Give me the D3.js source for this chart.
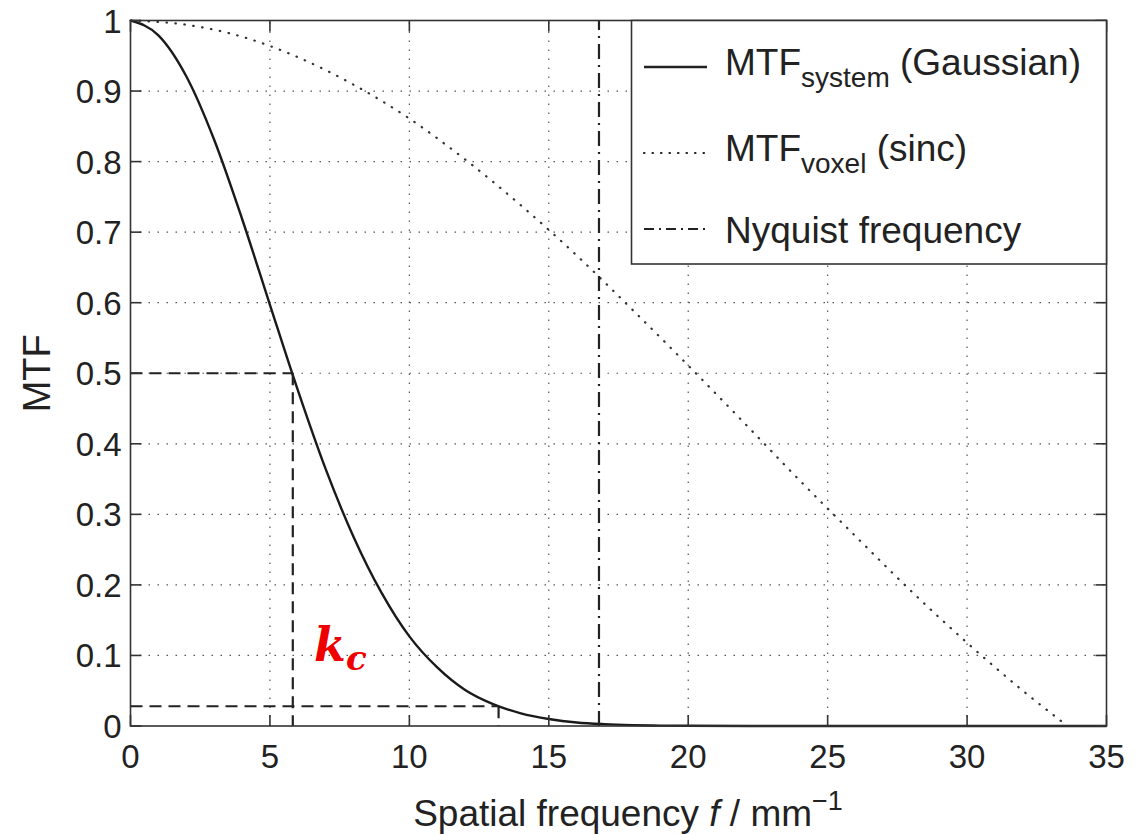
<!DOCTYPE html>
<html lang="en">
<head>
    <meta charset="UTF-8">
    <title>MTF vs spatial frequency</title>
    <script src="https://d3js.org/d3.v7.min.js"></script>
    <style>
        body {
            margin: 0;
            background: #fff;
            font-family: "Liberation Sans", Arial, sans-serif;
        }
        .grid line {
            stroke: #555;
            stroke-width: 1.2;
            stroke-dasharray: 1.5 7.5;
        }
        .tick-label {
            font-size: 33px;
            fill: #222;
        }
        .legend text {
            font-size: 37px;
            fill: #222;
        }
    </style>
</head>
<body>
    <script>
        // values
        const freqSystem = [0, 1, 2, 3, 4, 5, 6, 7, 8, 9, 10, 11, 12, 13, 14, 15, 16, 17, 18, 19, 20, 25, 30, 35];
        const mtfSystem = [1, 0.979, 0.921, 0.831, 0.719, 0.597, 0.476, 0.364, 0.268, 0.189, 0.127,
            0.083, 0.051, 0.031, 0.018, 0.010, 0.005, 0.0026, 0.0013, 0.0006, 0.0003, 0, 0, 0];

        const freqVoxel = [0, 2, 4, 6, 8, 10, 12, 14, 16, 18, 20, 22, 24, 26, 28, 30, 32, 33.6];
        const mtfVoxel = [1, 0.994, 0.977, 0.948, 0.909, 0.861, 0.803, 0.738, 0.667, 0.590,
            0.511, 0.430, 0.348, 0.269, 0.191, 0.118, 0.050, 0];

        const nyquistFreq = 16.8;
        const kcFreq = 5.82;      // MTF = 0.5
        const cutFreq = 13.2;
        const cutLevel = 0.028;

        const xTicks = [0, 5, 10, 15, 20, 25, 30, 35];
        const yTicks = [0, 0.1, 0.2, 0.3, 0.4, 0.5, 0.6, 0.7, 0.8, 0.9, 1];
        const yTickLabels = ["0", "0.1", "0.2", "0.3", "0.4", "0.5", "0.6", "0.7", "0.8", "0.9", "1"];

        const width = 1142, height = 834;
        const plotLeft = 130.5, plotRight = 1106.5, plotTop = 20.5, plotBottom = 726;

        const svg = d3.select("body").append("svg")
            .attr("width", width)
            .attr("height", height);

        const x = d3.scaleLinear().domain([0, 35]).range([plotLeft, plotRight]);
        const y = d3.scaleLinear().domain([0, 1]).range([plotBottom, plotTop]);

        // dotted grid
        const grid = svg.append("g").attr("class", "grid");
        grid.selectAll(".gx")
            .data(xTicks.slice(1, -1))
            .join("line")
            .attr("x1", d => x(d)).attr("x2", d => x(d))
            .attr("y1", plotBottom).attr("y2", plotTop);
        grid.selectAll(".gy")
            .data(yTicks.slice(1, -1))
            .join("line")
            .attr("x1", plotLeft).attr("x2", plotRight)
            .attr("y1", d => y(d)).attr("y2", d => y(d));

        const line = d3.line()
            .x(d => x(d[0]))
            .y(d => y(d[1]))
            .curve(d3.curveMonotoneX);

        // sinc (dotted)
        svg.append("path")
            .datum(d3.zip(freqVoxel, mtfVoxel))
            .attr("fill", "none")
            .attr("stroke", "#333")
            .attr("stroke-width", 2.2)
            .attr("stroke-linecap", "round")
            .attr("stroke-dasharray", "0.5 8.5")
            .attr("d", line);

        // Gaussian (solid)
        svg.append("path")
            .datum(d3.zip(freqSystem, mtfSystem))
            .attr("fill", "none")
            .attr("stroke", "#1a1a1a")
            .attr("stroke-width", 2.4)
            .attr("d", line);

        // helper dashed lines
        const dashed = [
            [[0, 0.5], [kcFreq, 0.5]],
            [[kcFreq, 0.5], [kcFreq, 0]],
            [[0, cutLevel], [cutFreq, cutLevel]],
            [[cutFreq, cutLevel], [cutFreq, 0]]
        ];
        svg.selectAll(".dash")
            .data(dashed)
            .join("path")
            .attr("class", "dash")
            .attr("fill", "none")
            .attr("stroke", "#222")
            .attr("stroke-width", 2.2)
            .attr("stroke-dasharray", "12 7")
            .attr("d", d3.line().x(d => x(d[0])).y(d => y(d[1])));

        // Nyquist (dash-dot)
        svg.append("line")
            .attr("x1", x(nyquistFreq)).attr("x2", x(nyquistFreq))
            .attr("y1", y(0)).attr("y2", y(1))
            .attr("stroke", "#222")
            .attr("stroke-width", 2.2)
            .attr("stroke-dasharray", "15 6 2 6");

        // box and inward ticks on all sides
        svg.append("rect")
            .attr("x", plotLeft).attr("y", plotTop)
            .attr("width", plotRight - plotLeft).attr("height", plotBottom - plotTop)
            .attr("fill", "none")
            .attr("stroke", "#333")
            .attr("stroke-width", 1.6);

        const tickLen = 11;
        const ticks = svg.append("g").attr("stroke", "#333").attr("stroke-width", 1.6);
        ticks.selectAll(".tb").data(xTicks).join("line")
            .attr("x1", d => x(d)).attr("x2", d => x(d))
            .attr("y1", plotBottom).attr("y2", plotBottom - tickLen);
        ticks.selectAll(".tt").data(xTicks).join("line")
            .attr("x1", d => x(d)).attr("x2", d => x(d))
            .attr("y1", plotTop).attr("y2", plotTop + tickLen);
        ticks.selectAll(".tl").data(yTicks).join("line")
            .attr("x1", plotLeft).attr("x2", plotLeft + tickLen)
            .attr("y1", d => y(d)).attr("y2", d => y(d));
        ticks.selectAll(".tr").data(yTicks).join("line")
            .attr("x1", plotRight).attr("x2", plotRight - tickLen)
            .attr("y1", d => y(d)).attr("y2", d => y(d));

        // tick labels
        svg.selectAll(".xl").data(xTicks).join("text")
            .attr("class", "tick-label")
            .attr("x", d => x(d))
            .attr("y", plotBottom + 42)
            .attr("text-anchor", "middle")
            .text(d => d);
        svg.selectAll(".yl").data(yTicks).join("text")
            .attr("class", "tick-label")
            .attr("x", plotLeft - 9)
            .attr("y", d => y(d) + 12)
            .attr("text-anchor", "end")
            .text((d, i) => yTickLabels[i]);

        // axis titles
        const xt = svg.append("text")
            .attr("x", 628).attr("y", 826)
            .attr("text-anchor", "middle")
            .attr("font-size", 37)
            .attr("fill", "#222");
        xt.append("tspan").text("Spatial frequency ");
        xt.append("tspan").attr("font-style", "italic").text("f");
        xt.append("tspan").text(" / mm");
        xt.append("tspan").attr("font-size", 27).attr("dy", -16).text("\u22121");

        svg.append("text")
            .attr("transform", `translate(50,${y(0.5)}) rotate(-90)`)
            .attr("text-anchor", "middle")
            .attr("font-size", 38)
            .attr("fill", "#222")
            .text("MTF");

        // k_c annotation
        const kc = svg.append("text")
            .attr("x", 314).attr("y", 661)
            .attr("font-family", "'DejaVu Serif', 'Liberation Serif', serif")
            .attr("font-style", "italic")
            .attr("font-weight", "bold")
            .attr("font-size", 46)
            .attr("fill", "#ee0000");
        kc.append("tspan").text("k");
        kc.append("tspan").attr("font-size", 34).attr("dy", 9).text("c");

        // legend
        const legend = svg.append("g").attr("class", "legend");
        legend.append("rect")
            .attr("x", 631.5).attr("y", plotTop)
            .attr("width", plotRight - 631.5).attr("height", 264 - plotTop)
            .attr("fill", "#fff")
            .attr("stroke", "#333")
            .attr("stroke-width", 1.6);

        const legendRows = [
            { y: 67, dash: null, width: 2.4 },
            { y: 153, dash: "0.5 8", width: 2.2 },
            { y: 229, dash: "10 5 2 5", width: 2.2 }
        ];
        legend.selectAll(".ls").data(legendRows).join("line")
            .attr("x1", 644).attr("x2", 707)
            .attr("y1", d => d.y).attr("y2", d => d.y)
            .attr("stroke", "#222")
            .attr("stroke-width", d => d.width)
            .attr("stroke-linecap", d => d.dash === "0.5 8" ? "round" : "butt")
            .attr("stroke-dasharray", d => d.dash);

        const t1 = legend.append("text").attr("x", 725).attr("y", 75);
        t1.append("tspan").text("MTF");
        t1.append("tspan").attr("font-size", 28).attr("dy", 12).text("system");
        t1.append("tspan").attr("dy", -12).text(" (Gaussian)");

        const t2 = legend.append("text").attr("x", 725).attr("y", 161);
        t2.append("tspan").text("MTF");
        t2.append("tspan").attr("font-size", 28).attr("dy", 12).text("voxel");
        t2.append("tspan").attr("dy", -12).text(" (sinc)");

        legend.append("text").attr("x", 725).attr("y", 243).text("Nyquist frequency");
    </script>
</body>
</html>
